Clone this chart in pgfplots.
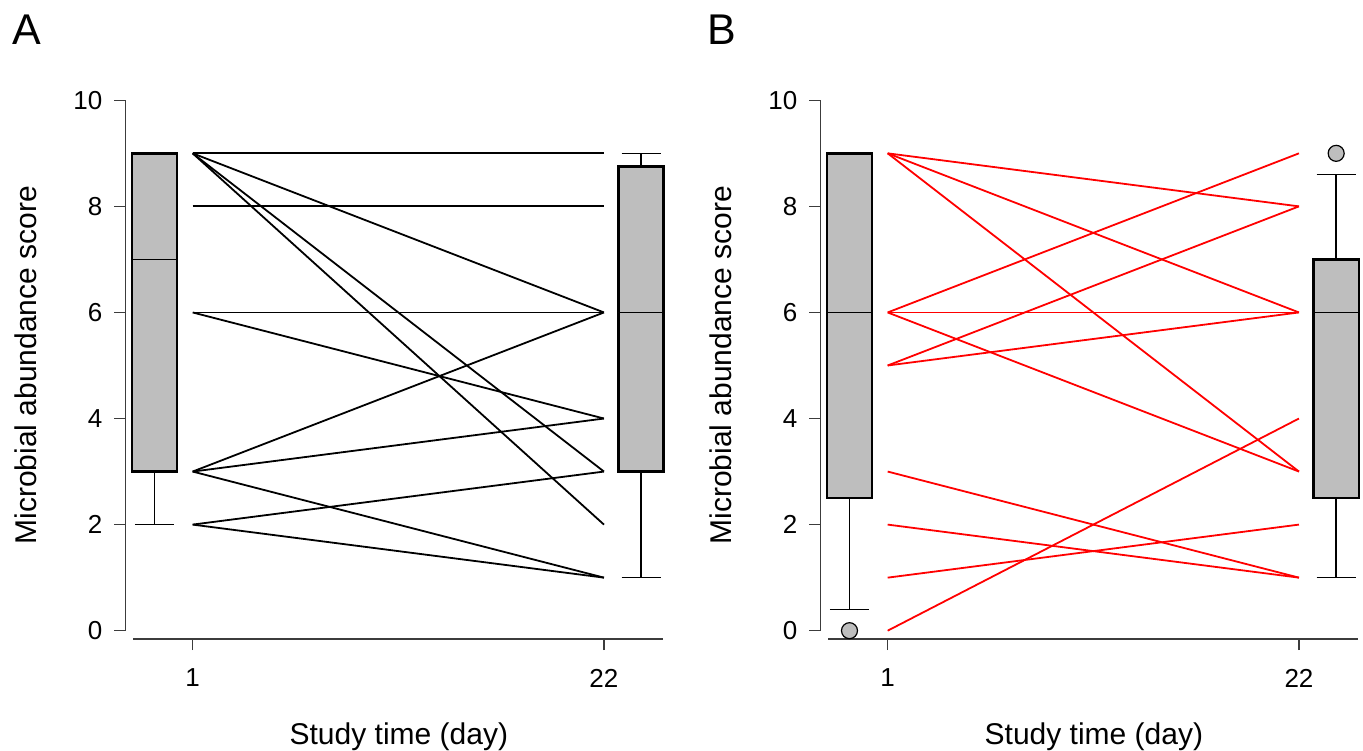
\documentclass[border=0pt]{standalone}
\usepackage{fontspec}
\setmainfont{Liberation Sans}
\usepackage{pgfplots}
\pgfplotsset{compat=1.18}
\usepgfplotslibrary{statistics}

\definecolor{boxgray}{RGB}{190,190,190}
\definecolor{axisgray}{RGB}{60,60,60}

\pgfplotsset{
  panel/.style={
    scale only axis, width=268.7pt, height=269.35pt,
    anchor=south west,
    xmin=-2.44, xmax=25, ymin=-0.157, ymax=10,
    clip=false,
    axis line style={draw=none},
    tick align=outside, xtick pos=bottom, ytick pos=left,
    major tick length=5.5pt,
    tick style={axisgray, line width=0.6pt},
    xtick={1,22}, ytick={0,2,4,6,8,10},
    minor tick num=0,
    /pgf/number format/assume math mode=true,
    ticklabel style={font=\fontsize{13}{15}\selectfont},
    yticklabel style={xshift=-2.5pt},
    xticklabel style={yshift=-6pt},
    xlabel={Study time (day)},
    ylabel={Microbial abundance score},
    label style={font=\fontsize{15}{18}\selectfont},
    xlabel style={at={(axis description cs:0.509,-0.195)}, anchor=base},
    ylabel style={at={(axis description cs:-0.166,0.508)}, anchor=base},
  },
  axisline/.style={axisgray, line width=0.6pt, mark=none},
  pairline/.style={line width=0.9pt, mark=none},
  gbox/.style={draw=black, fill=boxgray, line width=0.7pt,
    boxplot/draw direction=y,
    boxplot/every box/.style={draw=black, fill=boxgray, line width=1.2pt},
    boxplot/every whisker/.style={line width=0.7pt},
    boxplot/every median/.style={line width=0.9pt},
    mark=*, mark size=4pt,
    mark options={fill=boxgray, draw=black, line width=0.6pt}},
}

\begin{document}
\begin{tikzpicture}
\useasboundingbox (0,0) rectangle (681.5pt,375pt);

% ---------- A ----------
\begin{axis}[panel, at={(62.65pt,55.5pt)}]
\addplot[axisline] coordinates {(-2.44,0) (-2.44,10)};
\addplot[axisline] coordinates {(-2.03,-0.157) (25,-0.157)};

\addplot[pairline, black] coordinates {(1,9) (22,9)};
\addplot[pairline, black] coordinates {(1,8) (22,8)};
\addplot[pairline, black] coordinates {(1,9) (22,6)};
\addplot[pairline, black] coordinates {(1,9) (22,3)};
\addplot[pairline, black] coordinates {(1,9) (22,2)};
\addplot[pairline, black] coordinates {(1,6) (22,6)};
\addplot[pairline, black] coordinates {(1,6) (22,4)};
\addplot[pairline, black] coordinates {(1,3) (22,6)};
\addplot[pairline, black] coordinates {(1,3) (22,4)};
\addplot[pairline, black] coordinates {(1,3) (22,1)};
\addplot[pairline, black] coordinates {(1,2) (22,3)};
\addplot[pairline, black] coordinates {(1,2) (22,1)};

\addplot[gbox, boxplot prepared={lower whisker=2, lower quartile=3,
  median=7, upper quartile=9, upper whisker=9,
  draw position=-0.95, box extend=2.3, whisker extend=2}] coordinates {};
\addplot[gbox, boxplot prepared={lower whisker=1, lower quartile=3,
  median=6, upper quartile=8.75, upper whisker=9,
  draw position=23.9, box extend=2.3, whisker extend=2}] coordinates {};

\node[anchor=base west, inner sep=0pt, font=\fontsize{21.5}{24}\selectfont]
  at (axis description cs:-0.21,1.1045) {A};
\end{axis}

% ---------- B ----------
\begin{axis}[panel, at={(410.15pt,55.5pt)}]
\addplot[axisline] coordinates {(-2.44,0) (-2.44,10)};
\addplot[axisline] coordinates {(-2.03,-0.157) (25,-0.157)};

\addplot[pairline, red] coordinates {(1,9) (22,8)};
\addplot[pairline, red] coordinates {(1,9) (22,6)};
\addplot[pairline, red] coordinates {(1,9) (22,3)};
\addplot[pairline, red] coordinates {(1,6) (22,9)};
\addplot[pairline, red] coordinates {(1,6) (22,6)};
\addplot[pairline, red] coordinates {(1,6) (22,3)};
\addplot[pairline, red] coordinates {(1,5) (22,8)};
\addplot[pairline, red] coordinates {(1,5) (22,6)};
\addplot[pairline, red] coordinates {(1,3) (22,1)};
\addplot[pairline, red] coordinates {(1,2) (22,1)};
\addplot[pairline, red] coordinates {(1,1) (22,2)};
\addplot[pairline, red] coordinates {(1,0) (22,4)};

\addplot[gbox, boxplot prepared={lower whisker=0.4, lower quartile=2.5,
  median=6, upper quartile=9, upper whisker=9,
  draw position=-0.95, box extend=2.3, whisker extend=2}]
  table[row sep=\\, y index=0] {v\\ 0\\};
\addplot[gbox, boxplot prepared={lower whisker=1, lower quartile=2.5,
  median=6, upper quartile=7, upper whisker=8.6,
  draw position=23.9, box extend=2.3, whisker extend=2}]
  table[row sep=\\, y index=0] {v\\ 9\\};

\node[anchor=base west, inner sep=0pt, font=\fontsize{21.5}{24}\selectfont]
  at (axis description cs:-0.21,1.1045) {B};
\end{axis}
\end{tikzpicture}
\end{document}
